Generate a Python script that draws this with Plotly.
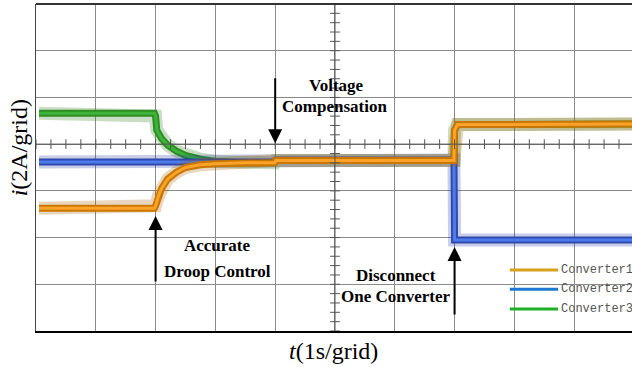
import numpy as np
import plotly.graph_objects as go

# ---- data (time in s, current in grid units of 2 A) ----
orange_t = [0.05, 1.98, 2.0, 2.05, 2.1, 2.2, 2.35, 2.5, 2.75, 3.0, 3.5, 3.99, 4.01, 6.99, 7.0, 7.05, 9.97]
orange_i = [2.63, 2.63, 2.68, 2.9, 3.05, 3.25, 3.4, 3.5, 3.56, 3.58, 3.6, 3.6, 3.65, 3.65, 4.3, 4.42, 4.43]

green_t = [0.05, 1.98, 2.0, 2.02, 2.1, 2.2, 2.35, 2.5, 2.75, 3.0, 3.5, 3.99, 4.01, 6.99, 7.0, 7.05, 9.97]
green_i = [4.66, 4.66, 4.6, 4.3, 4.12, 3.98, 3.85, 3.76, 3.68, 3.63, 3.6, 3.6, 3.65, 3.65, 4.3, 4.42, 4.43]

blue_t = [0.05, 3.99, 4.01, 6.99, 7.0, 9.97]
blue_i = [3.62, 3.62, 3.66, 3.66, 1.95, 1.95]

legend_names = ["Converter1", "Converter2", "Converter3"]
legend_colors = ["#D9A01A", "#1E78D2", "#1DAF24"]

X_MAX = 9.967
Y_MAX = 7

fig = go.Figure()

def band(t, v, outer, mid, core):
    fig.add_trace(go.Scatter(x=t, y=v, mode="lines", line=dict(color=outer, width=13),
                             opacity=0.25, hoverinfo="skip", showlegend=False))
    fig.add_trace(go.Scatter(x=t, y=v, mode="lines", line=dict(color=mid, width=7),
                             hoverinfo="skip", showlegend=False))
    fig.add_trace(go.Scatter(x=t, y=v, mode="lines", line=dict(color=core, width=3),
                             hoverinfo="skip", showlegend=False))

band(green_t, green_i, "#2E7D1E", "#2E8E22", "#3CB43C")
band(blue_t, blue_i, "#2A3EA8", "#3048B0", "#4C7CEA")
band(orange_t, orange_i, "#A86000", "#C87800", "#FFA22A")

# minor ticks on the centre lines
ht = np.arange(0, 10.01, 0.25)
fig.add_trace(go.Scatter(x=ht, y=[4] * len(ht), mode="markers",
                         marker=dict(symbol="line-ns", size=7, line=dict(color="#555", width=1)),
                         hoverinfo="skip", showlegend=False))
vt = np.arange(0, 7.01, 0.2)
fig.add_trace(go.Scatter(x=[5] * len(vt), y=vt, mode="markers",
                         marker=dict(symbol="line-ew", size=7, line=dict(color="#555", width=1)),
                         hoverinfo="skip", showlegend=False))

shapes = []
shapes.append(dict(type="line", xref="x", yref="y", x0=5, x1=5, y0=0, y1=Y_MAX,
                   line=dict(color="#555", width=1)))
shapes.append(dict(type="line", xref="x", yref="y", x0=0, x1=X_MAX, y0=4, y1=4,
                   line=dict(color="#555", width=1)))
shapes.append(dict(type="line", xref="paper", yref="paper", x0=0, x1=1, y0=1, y1=1,
                   line=dict(color="#333", width=2)))

annotations = []
serif = "Liberation Serif, Times New Roman, serif"
ly = [0.1865, 0.128, 0.067]
for name, col, yy in zip(legend_names, legend_colors, ly):
    shapes.append(dict(type="line", xref="paper", yref="paper", x0=0.795, x1=0.876, y0=yy, y1=yy,
                       line=dict(color=col, width=3)))
    annotations.append(dict(x=0.878, y=yy, xref="paper", yref="paper", text=name, showarrow=False,
                            xanchor="left", yanchor="middle",
                            font=dict(family="Liberation Mono, monospace", size=12, color="#555")))

for (tx, tip, tail) in [(4.0, 4.02, 5.44), (2.0, 2.46, 1.03), (7.0, 1.8, 0.32)]:
    annotations.append(dict(x=tx, y=tip, ax=tx, ay=tail, xref="x", yref="y", axref="x", ayref="y",
                            text="", showarrow=True, arrowhead=2, arrowsize=1.4, arrowwidth=2,
                            arrowcolor="black"))

for (txt, tx, ty) in [("Voltage", 5.02, 5.25), ("Compensation", 5.0, 4.8),
                      ("Accurate", 3.04, 1.84), ("Droop Control", 3.04, 1.28),
                      ("Disconnect", 6.02, 1.18), ("One Converter", 6.02, 0.73)]:
    annotations.append(dict(x=tx, y=ty, xref="x", yref="y", text="<b>" + txt + "</b>",
                            showarrow=False, xanchor="center", yanchor="middle",
                            font=dict(family=serif, size=17, color="black")))

annotations.append(dict(x=(333 - 36) / 596, y=(331 - 351) / 327, xref="paper", yref="paper",
                        text="<i>t</i>(1s/grid)", showarrow=False, xanchor="center", yanchor="middle",
                        font=dict(family=serif, size=24, color="black")))
annotations.append(dict(x=-0.028, y=(331 - 148) / 327, xref="paper", yref="paper",
                        text="<i>i</i>(2A/grid)", showarrow=False, xanchor="center", yanchor="middle",
                        textangle=-90, font=dict(family=serif, size=24, color="black")))

fig.update_layout(
    width=632, height=367,
    margin=dict(l=36, r=0, t=4, b=36),
    paper_bgcolor="white", plot_bgcolor="white",
    showlegend=False,
    shapes=shapes, annotations=annotations,
    xaxis=dict(range=[0, X_MAX], dtick=1, tick0=0, showgrid=True, gridcolor="#8a8a8a", gridwidth=1,
               zeroline=False, showticklabels=False, ticks="",
               showline=True, linecolor="black", linewidth=2, mirror=False),
    yaxis=dict(range=[0, Y_MAX], dtick=1, tick0=0, showgrid=True, gridcolor="#8a8a8a", gridwidth=1,
               zeroline=False, showticklabels=False, ticks="",
               showline=True, linecolor="#444", linewidth=1),
)

fig.write_html("out.html")
